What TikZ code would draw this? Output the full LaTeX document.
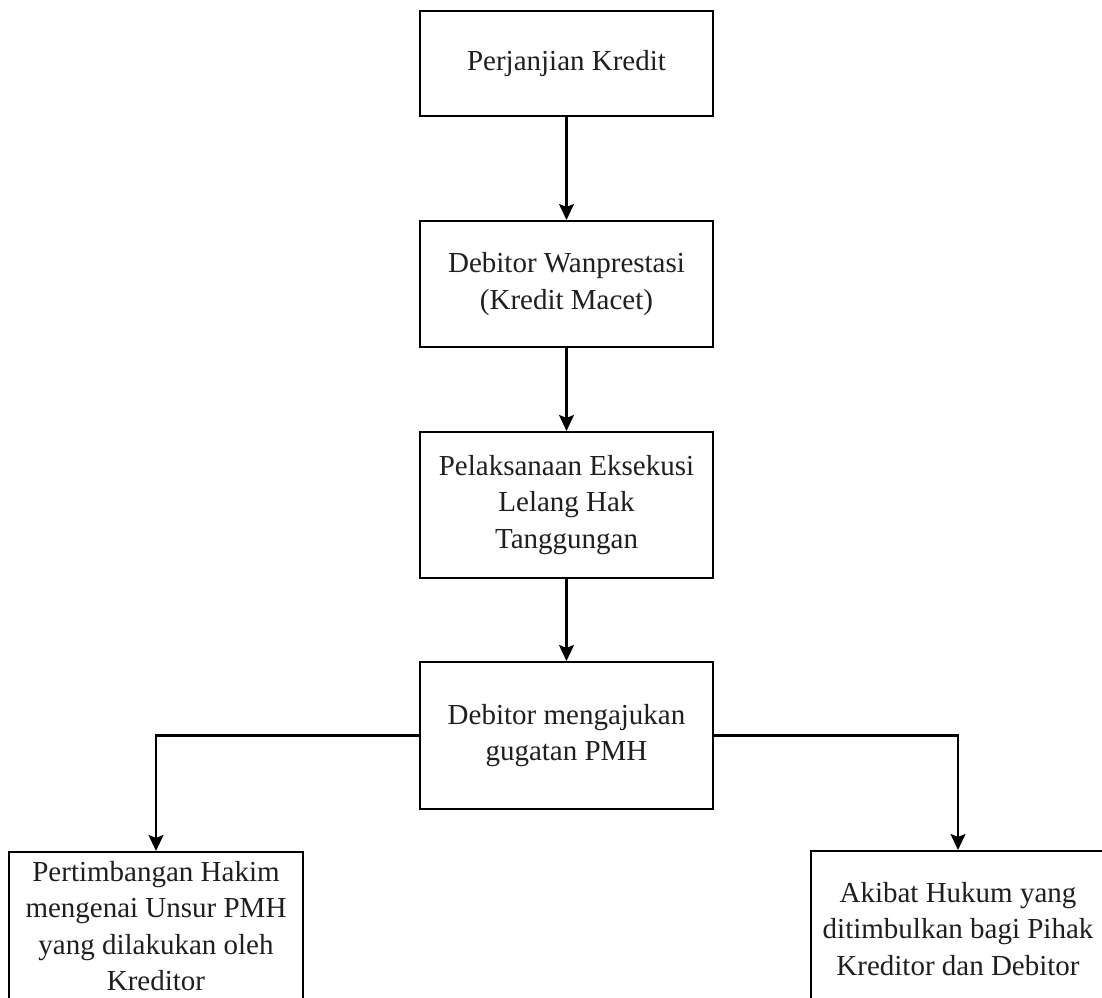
\documentclass[tikz,border=0pt]{standalone}
\usepackage{fontspec}
\setmainfont{Liberation Serif}
\usetikzlibrary{arrows.meta}
\begin{document}
\begin{tikzpicture}[x=1pt,y=-1pt,
  box/.style={draw=black, line width=2.1pt, fill=white, align=center, inner sep=0pt,
    font=\fontsize{29}{36.5}\selectfont, text=black!88},
  conn/.style={draw=black, line width=2.1pt, -{Stealth[length=16pt,width=15pt,inset=3pt]}}]
\clip (0,0) rectangle (1102,997);
\fill[white] (0,0) rectangle (1102,997);
\node[box, minimum width=293pt, minimum height=105pt] (b1) at (566.5,63.5) {Perjanjian Kredit};
\node[box, minimum width=293pt, minimum height=126pt] (b2) at (566.5,284) {Debitor Wanprestasi\\(Kredit Macet)};
\node[box, minimum width=293pt, minimum height=146pt] (b3) at (566.5,505) {Pelaksanaan Eksekusi\\Lelang Hak\\Tanggungan};
\node[box, minimum width=293pt, minimum height=147pt] (b4) at (566.5,735.5) {Debitor mengajukan\\gugatan PMH};
\node[box, minimum width=294pt, minimum height=148pt] (l) at (156,926) {Pertimbangan Hakim\\mengenai Unsur PMH\\yang dilakukan oleh\\Kreditor};
\node[box, minimum width=294pt, minimum height=156pt] (r) at (958,929) {Akibat Hukum yang\\ditimbulkan bagi Pihak\\Kreditor dan Debitor};
\draw[conn] (b1) -- (b2);
\draw[conn] (b2) -- (b3);
\draw[conn] (b3) -- (b4);
\draw[conn] (b4.west) -| (l.north);
\draw[conn] (b4.east) -| (r.north);
\end{tikzpicture}
\end{document}
